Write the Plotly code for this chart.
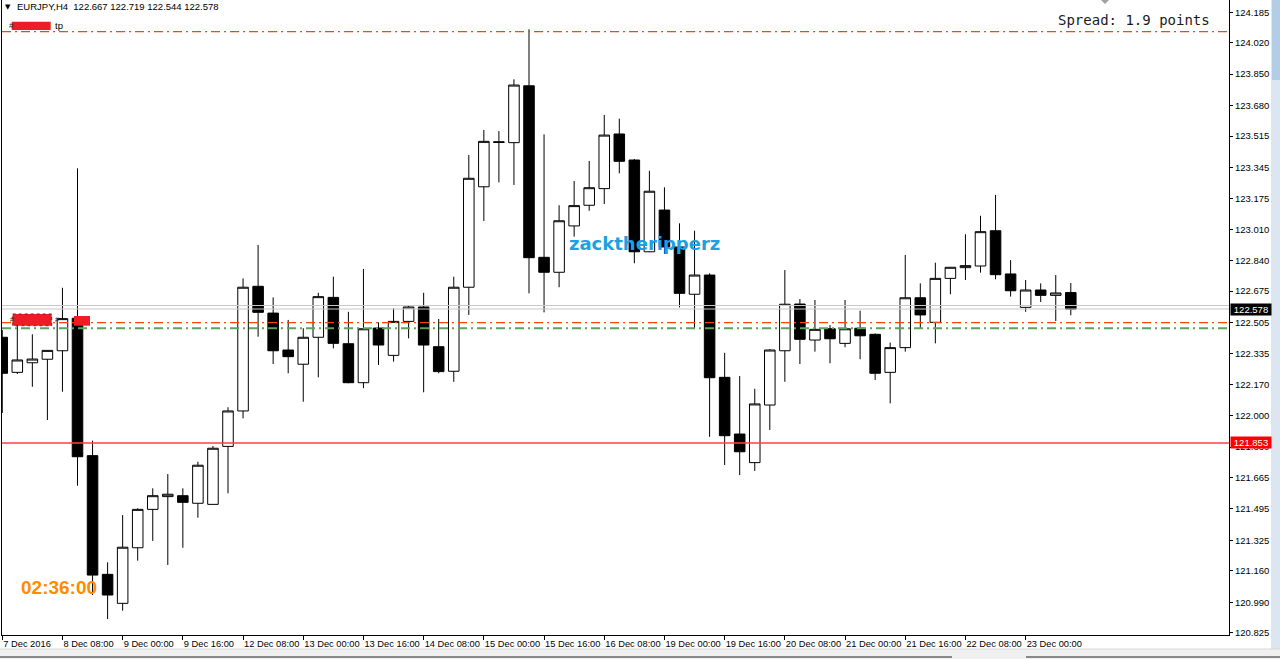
import plotly.graph_objects as go

# ---------------- data (EURJPY H4) ----------------
symbol = "EURJPY,H4"
opens = [122.425, 122.235, 122.287, 122.306, 122.352, 122.528, 121.784, 121.141, 120.984, 121.285,
         121.493, 121.562, 121.567, 121.526, 121.520, 121.834, 122.026, 122.701, 122.556, 122.356,
         122.279, 122.425, 122.641, 122.390, 122.179, 122.475, 122.327, 122.511, 122.589, 122.374,
         122.241, 122.696, 123.240, 123.484, 123.479, 123.787, 122.858, 122.777, 123.028, 123.140,
         123.230, 123.526, 123.385, 122.888, 123.114, 122.914, 122.658, 122.762, 122.208, 121.901,
         121.746, 122.058, 122.352, 122.605, 122.410, 122.471, 122.392, 122.474, 122.441, 122.235,
         122.369, 122.639, 122.506, 122.744, 122.802, 122.811, 123.002, 122.768, 122.587, 122.681,
         122.652, 122.667]
highs = [122.464, 122.519, 122.441, 122.354, 122.693, 123.340, 121.865, 121.206, 121.462, 121.499,
         121.607, 121.684, 121.607, 121.751, 121.836, 122.046, 122.744, 122.925, 122.641, 122.519,
         122.474, 122.666, 122.753, 122.563, 122.795, 122.506, 122.582, 122.594, 122.666, 122.524,
         122.753, 123.412, 123.548, 123.542, 123.822, 124.093, 123.524, 123.140, 123.271, 123.380,
         123.629, 123.609, 123.390, 123.327, 123.237, 123.042, 123.002, 122.771, 122.341, 122.215,
         122.146, 122.361, 122.789, 122.632, 122.627, 122.491, 122.627, 122.569, 122.446, 122.396,
         122.871, 122.717, 122.829, 122.806, 122.983, 123.083, 123.196, 122.843, 122.735, 122.717,
         122.762, 122.719]
lows = [122.015, 122.226, 122.157, 121.977, 122.130, 121.621, 121.029, 120.899, 120.944, 121.215,
        121.322, 121.192, 121.285, 121.448, 121.518, 121.580, 121.986, 122.428, 122.280, 122.230,
        122.076, 122.208, 122.365, 122.176, 122.149, 122.275, 122.293, 122.419, 122.127, 122.230,
        122.184, 122.546, 123.055, 123.264, 123.250, 122.663, 122.560, 122.696, 122.970, 123.110,
        123.147, 123.313, 122.826, 122.886, 122.876, 122.587, 122.474, 121.886, 121.733, 121.679,
        121.701, 121.923, 122.184, 122.280, 122.347, 122.284, 122.371, 122.306, 122.194, 122.067,
        122.347, 122.474, 122.392, 122.658, 122.735, 122.775, 122.739, 122.645, 122.563, 122.616,
        122.513, 122.544]
closes = [122.230, 122.302, 122.307, 122.354, 122.526, 121.778, 121.137, 121.029, 121.288, 121.493,
          121.567, 121.575, 121.531, 121.732, 121.824, 122.026, 122.696, 122.560, 122.352, 122.320,
          122.425, 122.645, 122.392, 122.179, 122.471, 122.383, 122.511, 122.589, 122.383, 122.239,
          122.696, 123.286, 123.486, 123.480, 123.791, 122.856, 122.777, 123.056, 123.138, 123.235,
          123.520, 123.378, 122.888, 123.216, 122.914, 122.663, 122.762, 122.206, 121.892, 121.805,
          122.064, 122.356, 122.604, 122.414, 122.468, 122.417, 122.471, 122.433, 122.230, 122.369,
          122.639, 122.546, 122.744, 122.804, 122.813, 122.997, 122.764, 122.677, 122.681, 122.652,
          122.665, 122.578]

time_tick_bars = [0, 4, 8, 12, 16, 20, 24, 28, 32, 36, 40, 44, 48, 52, 56, 60, 64, 68]
time_tick_labels = ["7 Dec 2016", "8 Dec 08:00", "9 Dec 00:00", "9 Dec 16:00", "12 Dec 08:00",
                    "13 Dec 00:00", "13 Dec 16:00", "14 Dec 08:00", "15 Dec 00:00", "15 Dec 16:00",
                    "16 Dec 08:00", "19 Dec 00:00", "19 Dec 16:00", "20 Dec 08:00", "21 Dec 00:00",
                    "21 Dec 16:00", "22 Dec 08:00", "23 Dec 00:00"]
price_tick_labels = ["124.185", "124.020", "123.850", "123.680", "123.515", "123.345", "123.175",
                     "123.010", "122.840", "122.675", "122.505", "122.335", "122.170", "122.000",
                     "121.830", "121.665", "121.495", "121.325", "121.160", "120.990", "120.825"]

tp_level = 124.080
order_level = 122.504
green_level = 122.474
ask_level = 122.597
bid_level = 122.578
red_level = 121.853
spread_points = 1.9
timer_text = "02:36:00"
watermark = "zacktheripperz"

# ---------------- layout helpers (pixel -> paper) ----------------
W, H = 1280, 659
L, R, T, B = 2, 1229, 0, 635


def px(x):
    return (x - L) / (R - L)


def py(y):
    return (B - y) / (B - T)


bars = list(range(len(opens)))

fig = go.Figure(go.Candlestick(
    x=bars, open=opens, high=highs, low=lows, close=closes,
    increasing=dict(line=dict(color="black", width=1), fillcolor="white"),
    decreasing=dict(line=dict(color="black", width=1), fillcolor="black"),
    whiskerwidth=0, showlegend=False, hoverinfo="skip",
))

dashdot = "9px,4px,2px,4px"
shapes = [
    dict(type="line", xref="paper", yref="y", x0=0, x1=1, y0=tp_level, y1=tp_level,
         line=dict(color="#FF4500", width=1.3, dash=dashdot), layer="above"),
    dict(type="line", xref="paper", yref="y", x0=0, x1=1, y0=ask_level, y1=ask_level,
         line=dict(color="#C8C8C8", width=1), layer="above"),
    dict(type="line", xref="paper", yref="y", x0=0, x1=1, y0=bid_level, y1=bid_level,
         line=dict(color="#C8C8C8", width=1), layer="above"),
    dict(type="line", xref="paper", yref="y", x0=0, x1=1, y0=order_level, y1=order_level,
         line=dict(color="#FF4500", width=1.3, dash=dashdot), layer="above"),
    dict(type="line", xref="paper", yref="y", x0=0, x1=1, y0=green_level, y1=green_level,
         line=dict(color="#55A855", width=2, dash=dashdot), layer="above"),
    dict(type="line", xref="paper", yref="y", x0=0, x1=1, y0=red_level, y1=red_level,
         line=dict(color="#FF4040", width=1.5), layer="above"),
    # redaction boxes
    dict(type="rect", xref="paper", yref="paper", x0=px(11.7), x1=px(50.7), y0=py(21.7), y1=py(30),
         fillcolor="#EE1C25", line=dict(width=0), layer="above"),
    dict(type="rect", xref="paper", yref="paper", x0=px(12.7), x1=px(51.7), y0=py(314), y1=py(325.7),
         fillcolor="#EE1C25", line=dict(color="#7a2020", width=1, dash="dot"), layer="above"),
    dict(type="rect", xref="paper", yref="paper", x0=px(74), x1=px(90), y0=py(316), y1=py(325.7),
         fillcolor="#EE1C25", line=dict(width=0), layer="above"),
    # small gray shift marker at top
    dict(type="path", xref="paper", yref="paper",
         path=f"M {px(1101)},{py(0)} L {px(1109)},{py(0)} L {px(1105)},{py(4)} Z",
         fillcolor="#A0A0A0", line=dict(width=0), layer="above"),
    # window chrome: right scroll strip and bottom tab bar
    dict(type="rect", xref="paper", yref="paper", x0=px(1271), x1=px(1280), y0=py(649), y1=py(0),
         fillcolor="#DCE6F1", line=dict(width=0), layer="above"),
    dict(type="rect", xref="paper", yref="paper", x0=px(1272), x1=px(1280), y0=py(80), y1=py(0),
         fillcolor="#B4CDE6", line=dict(width=0), layer="above"),
    dict(type="rect", xref="paper", yref="paper", x0=px(0), x1=px(1280), y0=py(659), y1=py(649),
         fillcolor="#F0F0F0", line=dict(width=0), layer="above"),
    dict(type="line", xref="paper", yref="paper", x0=px(0), x1=px(1280), y0=py(649), y1=py(649),
         line=dict(color="#D8D8D8", width=1), layer="above"),
    dict(type="line", xref="paper", yref="paper", x0=px(0), x1=px(952), y0=py(657), y1=py(657),
         line=dict(color="#202020", width=1), layer="above"),
    dict(type="line", xref="paper", yref="paper", x0=px(1026), x1=px(1280), y0=py(657), y1=py(657),
         line=dict(color="#202020", width=1), layer="above"),
]

ann_font = dict(family="Liberation Sans", size=9.5, color="black")
annotations = [
    dict(xref="paper", yref="paper", x=px(3), y=py(7), xanchor="left", yanchor="middle",
         text="▼", showarrow=False, font=dict(family="DejaVu Sans", size=7, color="black")),
    dict(xref="paper", yref="paper", x=px(15), y=py(7), xanchor="left", yanchor="middle",
         text=f"{symbol}  {opens[-1]:.3f} {highs[-1]:.3f} {lows[-1]:.3f} {closes[-1]:.3f}",
         showarrow=False, font=ann_font),
    dict(xref="paper", yref="paper", x=px(7), y=py(26), xanchor="left", yanchor="middle",
         text="#", showarrow=False, font=dict(family="Liberation Sans", size=8, color="#333")),
    dict(xref="paper", yref="paper", x=px(53), y=py(26), xanchor="left", yanchor="middle",
         text="tp", showarrow=False, font=ann_font),
    dict(xref="paper", yref="paper", x=px(8), y=py(319.5), xanchor="left", yanchor="middle",
         text="#", showarrow=False, font=dict(family="Liberation Sans", size=7, color="#333")),
    dict(xref="paper", yref="paper", x=px(53), y=py(319.5), xanchor="left", yanchor="middle",
         text="#", showarrow=False, font=dict(family="Liberation Sans", size=7, color="#333")),
    dict(xref="paper", yref="paper", x=px(1056), y=py(19.5), xanchor="left", yanchor="middle",
         text=f"Spread: {spread_points} points", showarrow=False,
         font=dict(family="DejaVu Sans Mono", size=14, color="#1a1a1a")),
    dict(xref="paper", yref="paper", x=px(644), y=py(243), xanchor="center", yanchor="middle",
         text=watermark, showarrow=False,
         font=dict(family="DejaVu Sans", size=18, color="#1BA1E2", weight="bold")),
    dict(xref="paper", yref="paper", x=px(19), y=py(587), xanchor="left", yanchor="middle",
         text=timer_text, showarrow=False,
         font=dict(family="Liberation Sans", size=19, color="#FF8C00", weight="bold")),
    dict(xref="paper", yref="y", x=px(1230), y=bid_level, xanchor="left", yanchor="middle",
         text=f"{bid_level:.3f}", showarrow=False, bgcolor="black", width=40, height=11,
         borderpad=0, font=dict(family="Liberation Sans", size=9.5, color="white")),
    dict(xref="paper", yref="y", x=px(1230), y=red_level, xanchor="left", yanchor="middle",
         text=f"{red_level:.3f}", showarrow=False, bgcolor="#FF0000", width=40, height=11,
         borderpad=0, font=dict(family="Liberation Sans", size=9.5, color="white")),
]

k = 3.36 / 620.4  # price per pixel
y_top = 124.185 + 12.3 * k
y_bot = 124.185 - (635 - 12.3) * k
bar_px = 15.05
x_left = (L - 2.25) / bar_px
x_right = (R - 2.25) / bar_px

fig.update_layout(
    width=W, height=H, autosize=False,
    margin=dict(l=L, r=W - R, t=T, b=H - B, pad=0, autoexpand=False),
    paper_bgcolor="white", plot_bgcolor="white",
    font=dict(family="Liberation Sans", size=9.5, color="black"),
    boxgap=0.3, boxgroupgap=0,
    shapes=shapes, annotations=annotations,
    xaxis=dict(range=[x_left, x_right], showgrid=False, zeroline=False, rangeslider=dict(visible=False),
               showline=True, linecolor="black", linewidth=1, automargin=False,
               tickmode="array", tickvals=time_tick_bars, ticktext=time_tick_labels, tickangle=0,
               ticks="outside", ticklen=4, tickcolor="black", ticklabelposition="outside right",
               tickfont=dict(family="Liberation Sans", size=9.3, color="black")),
    yaxis=dict(range=[y_bot, y_top], side="right", showgrid=False, zeroline=False,
               showline=True, linecolor="black", linewidth=1, mirror=True, automargin=False,
               tickmode="array", tickvals=[float(t) for t in price_tick_labels], ticktext=price_tick_labels,
               ticks="outside", ticklen=3, tickcolor="black",
               tickfont=dict(family="Liberation Sans", size=9.5, color="black")),
)

fig.write_html("out.html", config={"displayModeBar": False},
               post_script="document.body.style.margin='0px';document.body.style.overflow='hidden';")
